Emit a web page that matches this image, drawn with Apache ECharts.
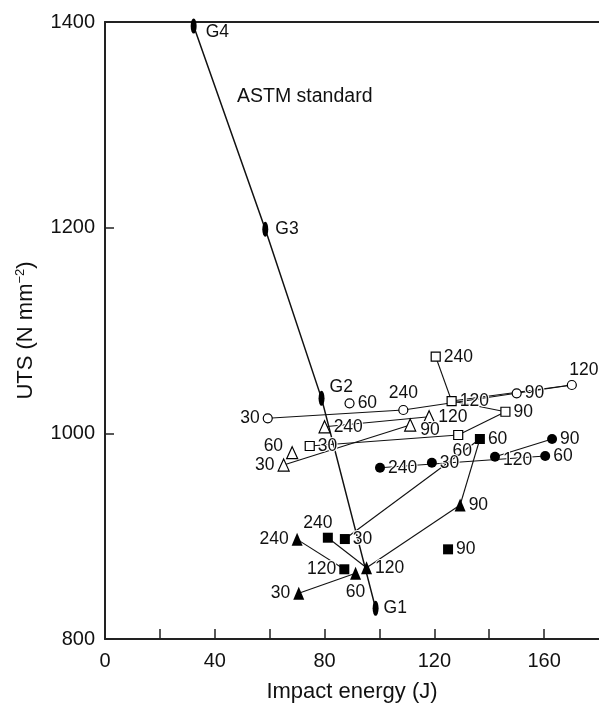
<!DOCTYPE html>
<html><head><meta charset="utf-8">
<script src="https://cdn.jsdelivr.net/npm/echarts@6/dist/echarts.min.js"></script>
<style>html,body{margin:0;padding:0;background:#fff;overflow:hidden}#c{width:599px;height:704px}</style>
</head><body><div id="c"></div>
<script>
// ---- data ----
const timeLabels = ['30', '60', '90', '120', '240'];
const openCircleX = [59.3, 89.1, 150.0, 170.1, 108.7];
const openCircleY = [1014.6, 1029.2, 1038.9, 1047.0, 1022.7];
const openSquareX = [74.6, 128.7, 145.9, 126.3, 120.5];
const openSquareY = [987.7, 998.4, 1021.0, 1031.4, 1074.5];
const openTriX = [65.1, 68.2, 111.2, 118.1, 80.0];
const openTriY = [969.2, 981.2, 1008.1, 1016.2, 1006.4];
const filledCircleX = [119.1, 160.4, 162.9, 142.1, 100.2];
const filledCircleY = [971.4, 977.9, 994.5, 977.3, 966.6];
const filledSquareX = [87.4, 136.6, 125.0, 87.2, 81.2];
const filledSquareY = [897.2, 994.5, 887.2, 867.8, 898.5];
const filledTriX = [70.6, 91.3, 129.4, 95.3, 70.0];
const filledTriY = [844.4, 863.9, 930.3, 869.3, 896.9];
const gradeLabels = ['G4', 'G3', 'G2', 'G1'];
const gradeX = [32.3, 58.4, 78.9, 98.6];
const gradeY = [1396, 1198.4, 1034, 829.8];
const xTickLabels = [0, 40, 80, 120, 160];
const xTickMarks = [20, 40, 60, 80, 100, 120, 140, 160];
const yTickLabels = [800, 1000, 1200, 1400];
// connecting lines between points: [series, label, series, label]
const links = [
  ['oc','30','oc','240'], ['oc','240','oc','120'], ['os','120','oc','120'],
  ['os','240','os','120'], ['os','120','os','90'], ['os','90','os','60'], ['os','60','os','30'],
  ['ot','240','ot','120'], ['ot','30','ot','90'],
  ['fc','240','fc','60'], ['fc','120','fc','90'],
  ['fs','30','fs','60'], ['fs','240','ft','120'],
  ['ft','120','ft','90'], ['ft','90','fs','60'], ['ft','240','fs','120'], ['ft','30','ft','60']
];

// ---- styles ----
const FONT = 'Liberation Sans, Arial, sans-serif';
const INK = '#111';
const sets = {
  oc: {x: openCircleX, y: openCircleY, symbol: 'circle', size: 9, fill: '#fff'},
  os: {x: openSquareX, y: openSquareY, symbol: 'rect', size: 9, fill: '#fff'},
  ot: {x: openTriX, y: openTriY, symbol: 'triangle', size: [11, 12], fill: '#fff'},
  fc: {x: filledCircleX, y: filledCircleY, symbol: 'circle', size: 10, fill: '#000'},
  fs: {x: filledSquareX, y: filledSquareY, symbol: 'rect', size: 10, fill: '#000'},
  ft: {x: filledTriX, y: filledTriY, symbol: 'triangle', size: [11, 13], fill: '#000'}
};
const labelPlace = {
  'oc-30': {position: 'left'},
  'oc-240': {position: 'top', distance: 3},
  'oc-120': {position: 'top', offset: [12, 2]},
  'os-60': {position: 'bottom', offset: [4, -1]},
  'ot-30': {position: 'left'},
  'ot-60': {position: 'left', offset: [0, -6]},
  'ot-90': {position: 'right', offset: [1, 5]},
  'fc-120': {position: 'right', offset: [0, 3]},
  'fs-120': {position: 'left'},
  'fs-240': {position: 'top', offset: [-10, 2]},
  'ft-30': {position: 'left'},
  'ft-240': {position: 'left'},
  'ft-60': {position: 'bottom', distance: 3}
};
const gradeLabelPlace = {
  'G4': {offset: [4, 6]},
  'G3': {offset: [2, 0]},
  'G2': {offset: [0, -11]}
};

function pt(key, lbl) {
  const s = sets[key]; const i = timeLabels.indexOf(lbl);
  return [s.x[i], s.y[i]];
}

const baseLabel = {
  show: true, position: 'right', distance: 3, fontSize: 17.5, fontFamily: FONT, color: INK,
  textBorderColor: '#fff', textBorderWidth: 2, formatter: '{b}'
};

const series = [];
links.forEach(l => {
  series.push({
    type: 'line', data: [pt(l[0], l[1]), pt(l[2], l[3])], symbol: 'none',
    lineStyle: {color: INK, width: 1.1}, z: 1, silent: true, animation: false, clip: false
  });
});

series.push({
  type: 'line', z: 2, animation: false, clip: false,
  data: gradeLabels.map((g, i) => ({
    name: g, value: [gradeX[i], gradeY[i]],
    label: Object.assign({}, baseLabel, {fontSize: 17.5, distance: 5}, gradeLabelPlace[g] || {})
  })),
  symbol: 'path://M0,1A1,1 0 1,1 0,-1A1,1 0 1,1 0,1Z', symbolSize: [6, 15], showAllSymbol: true,
  itemStyle: {color: '#000'}, lineStyle: {color: INK, width: 1.5}
});

Object.keys(sets).forEach(key => {
  const s = sets[key];
  series.push({
    type: 'scatter', z: 3, animation: false, clip: false,
    symbol: s.symbol, symbolSize: s.size,
    itemStyle: {color: s.fill, borderColor: '#000', borderWidth: s.fill === '#fff' ? 1.2 : 0, opacity: 1},
    data: timeLabels.map((t, i) => ({
      name: t, value: [s.x[i], s.y[i]],
      label: Object.assign({}, baseLabel, labelPlace[key + '-' + t] || {})
    }))
  });
});

const chart = echarts.init(document.getElementById('c'), null, {renderer: 'canvas'});
chart.setOption({
  backgroundColor: '#fff',
  animation: false,
  grid: {left: 105, right: 0, top: 22, bottom: 65, containLabel: false, outerBoundsMode: 'none'},
  xAxis: [{
    type: 'value', min: 0, max: 180, interval: 20, position: 'bottom',
    name: 'Impact energy (J)', nameLocation: 'middle', nameGap: 42,
    nameTextStyle: {fontSize: 22, fontFamily: FONT, color: INK},
    axisLine: {show: true, lineStyle: {color: '#222', width: 2}},
    axisTick: {show: true, inside: true, length: 10, customValues: xTickMarks,
      lineStyle: {color: '#222', width: 1.5}},
    axisLabel: {fontSize: 20, fontFamily: FONT, color: INK, margin: 12, customValues: xTickLabels,
      formatter: v => String(v)},
    splitLine: {show: false}
  }, {
    type: 'value', min: 0, max: 180, position: 'top',
    axisLine: {show: true, lineStyle: {color: '#222', width: 2}},
    axisTick: {show: false}, axisLabel: {show: false}, splitLine: {show: false}
  }],
  yAxis: {
    type: 'value', min: 800, max: 1400, interval: 200,
    name: '{n|UTS (N mm}{s|−2}{n|)}', nameLocation: 'middle', nameGap: 68, nameRotate: 90,
    nameTextStyle: {
      rich: {
        n: {fontSize: 22, fontFamily: FONT, color: INK},
        s: {fontSize: 13, fontFamily: FONT, color: INK, verticalAlign: 'top', padding: [0, 0, 10, 0]}
      }
    },
    axisLine: {show: true, lineStyle: {color: '#222', width: 2}},
    axisTick: {show: true, inside: true, length: 9, lineStyle: {color: '#222', width: 1.5}},
    axisLabel: {fontSize: 20, fontFamily: FONT, color: INK, margin: 10,
      formatter: v => yTickLabels.indexOf(v) >= 0 ? String(v) : ''},
    splitLine: {show: false}
  },
  graphic: [{
    type: 'text', left: 237, top: 87,
    style: {text: 'ASTM standard', fontSize: 19.5, fontFamily: FONT, fill: INK}
  }],
  series: series
});
</script>
</body></html>
